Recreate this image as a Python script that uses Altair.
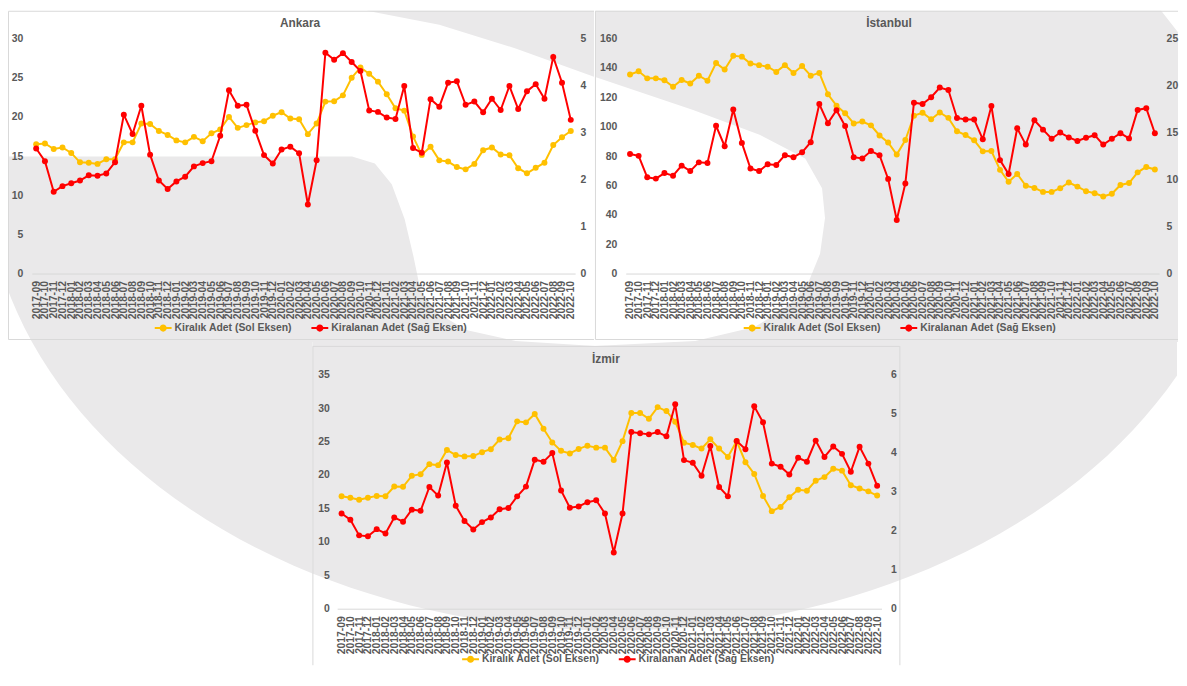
import math
import altair as alt
import pandas as pd

# ---------------- data ----------------
months = [
    "2017-09", "2017-10", "2017-11", "2017-12",
    "2018-01", "2018-02", "2018-03", "2018-04", "2018-05", "2018-06",
    "2018-07", "2018-08", "2018-09", "2018-10", "2018-11", "2018-12",
    "2019-01", "2019-02", "2019-03", "2019-04", "2019-05", "2019-06",
    "2019-07", "2019-08", "2019-09", "2019-10", "2019-11", "2019-12",
    "2020-01", "2020-02", "2020-03", "2020-04", "2020-05", "2020-06",
    "2020-07", "2020-08", "2020-09", "2020-10", "2020-11", "2020-12",
    "2021-01", "2021-02", "2021-03", "2021-04", "2021-05", "2021-06",
    "2021-07", "2021-08", "2021-09", "2021-10", "2021-11", "2021-12",
    "2022-01", "2022-02", "2022-03", "2022-04", "2022-05", "2022-06",
    "2022-07", "2022-08", "2022-09", "2022-10",
]

ankara_kiralik = [
    16.5, 16.6, 15.9, 16.1, 15.4, 14.2, 14.15, 14.0, 14.6, 14.6,
    16.75, 16.75, 19.15, 19.1, 18.2, 17.7, 17.0, 16.75, 17.45, 16.9,
    17.9, 18.4, 20.0, 18.6, 18.95, 19.3, 19.45, 20.15, 20.6, 19.8,
    19.7, 17.8, 19.15, 21.95, 22.0, 22.75, 25.0, 26.3, 25.5, 24.5,
    22.9, 21.1, 20.8, 17.5, 15.15, 16.2, 14.45, 14.3, 13.6, 13.3,
    14.0, 15.75, 16.1, 15.2, 15.1, 13.45, 12.8, 13.5, 14.15, 16.4,
    17.4, 18.2,
]
ankara_kiralanan = [
    2.66, 2.39, 1.74, 1.86, 1.92, 1.98, 2.09, 2.08, 2.13, 2.37,
    3.38, 2.97, 3.57, 2.53, 1.98, 1.80, 1.96, 2.06, 2.28, 2.35,
    2.39, 2.93, 3.90, 3.57, 3.59, 3.04, 2.52, 2.34, 2.64, 2.70,
    2.56, 1.47, 2.41, 4.70, 4.55, 4.69, 4.50, 4.31, 3.47, 3.44,
    3.32, 3.29, 3.99, 2.67, 2.57, 3.71, 3.55, 4.06, 4.09, 3.59,
    3.66, 3.43, 3.72, 3.48, 3.99, 3.50, 3.88, 4.03, 3.72, 4.61,
    4.06, 3.27,
]
istanbul_kiralik = [
    135.5, 137.7, 132.9, 132.9, 131.6, 127.2, 131.8, 129.4, 134.7, 131.3,
    143.3, 138.9, 148.3, 147.7, 143.0, 141.9, 140.8, 137.3, 141.9, 136.6,
    141.3, 134.7, 136.6, 122.1, 114.3, 109.1, 102.2, 103.5, 100.9, 94.0,
    89.2, 81.0, 90.9, 107.5, 109.5, 105.1, 109.7, 106.0, 96.9, 94.3,
    90.7, 83.2, 83.4, 70.6, 62.5, 67.8, 59.8, 58.3, 55.6, 55.6,
    58.1, 62.0, 59.2, 56.1, 54.7, 52.5, 54.3, 60.3, 61.6, 68.9,
    72.6, 70.9,
]
istanbul_kiralanan = [
    12.72, 12.52, 10.24, 10.10, 10.69, 10.41, 11.48, 10.90, 11.83, 11.76,
    15.72, 13.55, 17.45, 13.90, 11.17, 10.90, 11.62, 11.55, 12.59, 12.38,
    12.90, 13.97, 18.03, 16.0, 17.38, 15.69, 12.38, 12.24, 13.03, 12.59,
    10.07, 5.69, 9.59, 18.17, 18.03, 18.76, 19.79, 19.52, 16.55, 16.38,
    16.38, 14.28, 17.83, 12.07, 10.59, 15.45, 13.72, 16.31, 15.31, 14.34,
    15.0, 14.48, 14.10, 14.45, 14.72, 13.72, 14.34, 14.93, 14.38, 17.41,
    17.59, 14.93,
]
izmir_kiralik = [
    16.82, 16.58, 16.29, 16.58, 16.87, 16.82, 18.27, 18.23, 19.87, 20.12,
    21.62, 21.47, 23.75, 22.98, 22.78, 22.83, 23.41, 23.85, 25.30, 25.50,
    28.02, 27.87, 29.13, 26.90, 24.87, 23.61, 23.22, 23.90, 24.38, 24.09,
    24.09, 22.25, 25.06, 29.28, 29.28, 28.40, 30.15, 29.57, 27.97, 24.82,
    24.48, 23.95, 25.35, 23.95, 22.69, 25.06, 21.91, 20.16, 16.87, 14.59,
    15.22, 16.67, 17.79, 17.64, 19.15, 19.68, 20.94, 20.65, 18.47, 17.98,
    17.55, 16.92,
]
izmir_kiralanan = [
    2.44, 2.28, 1.88, 1.86, 2.04, 1.93, 2.34, 2.23, 2.54, 2.51,
    3.12, 2.90, 3.75, 2.64, 2.25, 2.03, 2.22, 2.34, 2.55, 2.58,
    2.88, 3.13, 3.82, 3.77, 3.99, 3.03, 2.59, 2.62, 2.73, 2.78,
    2.44, 1.44, 2.44, 4.53, 4.50, 4.47, 4.53, 4.42, 5.24, 3.81,
    3.74, 3.41, 4.17, 3.12, 2.88, 4.30, 4.09, 5.19, 4.78, 3.72,
    3.64, 3.44, 3.87, 3.77, 4.31, 3.89, 4.16, 3.97, 3.51, 4.15,
    3.72, 3.15,
]

SERIES = ["Kiralık Adet (Sol Eksen)", "Kiralanan Adet (Sağ Eksen)"]

# ---------------- styles ----------------
YELLOW = "#FFC000"
RED = "#FF0000"
TEXT = "#595959"
BORDER = "#D9D9D9"
WM = "#EAE9EA"
FONT = "Liberation Sans"
LEGEND_SYMBOL = ("M-1,-0.12H1V0.12H-1Z "
                 "M0.42,0A0.42,0.42 0 1 1 -0.42,0A0.42,0.42 0 1 1 0.42,0Z")


# ---------------- background watermark (decoration) ----------------
def watermark_outline():
    cx, cy, rx, ry = 620.0, 165.0, 635.0, 468.0
    t0 = -(math.pi - math.acos((620.0 - 200.0) / 635.0))
    t1 = math.pi + math.asin(10.0 / 468.0)
    n = 160
    pts = []
    for i in range(n + 1):
        t = t0 + (t1 - t0) * i / n
        pts.append((cx + rx * math.cos(t), cy + ry * math.sin(t)))
    inner = [
        (355, 155), (378, 162), (395, 183), (408, 218), (417, 256), (424, 290),
        (440, 312), (470, 330), (520, 341), (600, 346), (700, 341), (760, 327),
        (795, 305), (815, 280), (826, 253), (831, 217),
        (828, 187), (811, 157), (765, 133), (698, 108), (600, 75), (520, 46),
        (443, 22), (370, 8), (290, -3),
    ]
    return pts + [(float(a), float(b)) for a, b in inner]


def clip_poly(poly, f):
    out = []
    n = len(poly)
    for i in range(n):
        a = poly[i]
        b = poly[(i + 1) % n]
        fa, fb = f(a), f(b)
        if fa >= 0:
            out.append(a)
        if (fa >= 0) != (fb >= 0):
            t = fa / (fa - fb)
            out.append((a[0] + t * (b[0] - a[0]), a[1] + t * (b[1] - a[1])))
    return out


def watermark_path(cell, ox, oy):
    x1, y1, x2, y2 = cell
    poly = watermark_outline()
    for f in (lambda p: p[0] - x1, lambda p: x2 - p[0],
              lambda p: p[1] - y1, lambda p: y2 - p[1],
              lambda p: 25 * (p[1] + 1) - 32 * (p[0] - 1163)):
        poly = clip_poly(poly, f)
    return "M" + " L".join(f"{x - ox:.1f},{y - oy:.1f}" for x, y in poly) + " Z"


ONE = pd.DataFrame({"k": [0]})


def background(cell, ox, oy):
    wm = alt.Chart(ONE).mark_point(
        shape=watermark_path(cell, ox, oy), size=4, filled=True, color=WM,
        opacity=1, strokeWidth=0
    ).encode(x=alt.value(0), y=alt.value(0))
    cx1, cy1, cx2, cy2 = cell
    cellrect = alt.Chart(ONE).mark_rect(opacity=0).encode(
        x=alt.value(cx1 - ox), x2=alt.value(cx2 - ox),
        y=alt.value(cy1 - oy), y2=alt.value(cy2 - oy))
    return [wm, cellrect]


# ---------------- panel builder ----------------
def panel(title, kir, kira, lmax, lstep, rmax, rstep, ox, oy, W, H, cell,
          edges, title_pos, legend_pos, lpad_l, lpad_r):
    df_k = pd.DataFrame({"Ay": months, "deger": kir, "seri": SERIES[0]})
    df_r = pd.DataFrame({"Ay": months, "deger": kira, "seri": SERIES[1]})

    borders = []
    for (ex1, ey1, ex2, ey2) in edges:
        borders.append(alt.Chart(ONE).mark_rule(color=BORDER, strokeWidth=1).encode(
            x=alt.value(ex1 - ox), x2=alt.value(ex2 - ox),
            y=alt.value(ey1 - oy), y2=alt.value(ey2 - oy)))

    ttl = alt.Chart(ONE).mark_text(
        text=title, font=FONT, fontSize=12, fontWeight="bold", color=TEXT,
        align="center", baseline="middle"
    ).encode(x=alt.value(title_pos[0] - ox), y=alt.value(title_pos[1] - oy))

    x_enc = alt.X(
        "Ay:O", sort=months, title=None,
        axis=alt.Axis(labelAngle=-90, labelFont=FONT, labelFontSize=10.5,
                      labelFontWeight="bold", labelColor=TEXT, ticks=False,
                      domainColor=BORDER, domainWidth=1, labelPadding=7,
                      labelOverlap=False, grid=False, zindex=1))

    def yaxis(orient, vals, pad):
        return alt.Axis(orient=orient, values=vals, title=None, grid=False,
                        domain=False, ticks=False, labelFont=FONT,
                        labelFontSize=10.5, labelFontWeight="bold",
                        labelColor=TEXT, labelPadding=pad, zindex=1)

    lvals = list(range(0, lmax + 1, lstep))
    rvals = list(range(0, rmax + 1, rstep))
    y_left = alt.Y("deger:Q", scale=alt.Scale(domain=[0, lmax], nice=False),
                   axis=yaxis("left", lvals, lpad_l))
    y_right = alt.Y("deger:Q", scale=alt.Scale(domain=[0, rmax], nice=False),
                    axis=yaxis("right", rvals, lpad_r))

    cscale = alt.Scale(domain=SERIES, range=[YELLOW, RED])
    leg = alt.Legend(
        orient="none", legendX=legend_pos[0] - ox, legendY=legend_pos[1] - oy,
        direction="horizontal", title=None, symbolType=LEGEND_SYMBOL,
        symbolSize=289, symbolStrokeWidth=0, symbolOpacity=1,
        labelFont=FONT, labelFontSize=10.5, labelFontWeight="bold",
        labelColor=TEXT, labelOffset=3, columnPadding=19)
    color = alt.Color("seri:N", scale=cscale, legend=leg)

    yline = alt.Chart(df_k).mark_line(color=YELLOW, strokeWidth=2).encode(x=x_enc, y=y_left)
    ypts = alt.Chart(df_k).mark_point(filled=True, size=36, opacity=1, strokeWidth=0).encode(
        x=x_enc, y=y_left, color=color)
    rline = alt.Chart(df_r).mark_line(color=RED, strokeWidth=2).encode(x=x_enc, y=y_right)
    rpts = alt.Chart(df_r).mark_point(filled=True, size=36, opacity=1, strokeWidth=0).encode(
        x=x_enc, y=y_right, color=color)

    yellow = alt.layer(yline, ypts)
    red = alt.layer(rline, rpts)
    return alt.layer(*background(cell, ox, oy), *borders, ttl, yellow, red).resolve_scale(
        y="independent").properties(width=W, height=H)


ankara = panel(
    "Ankara", ankara_kiralik, ankara_kiralanan, 30, 5, 5, 1,
    ox=32, oy=36, W=548, H=237, cell=(8, 8, 599, 342),
    edges=[(8.5, 8.5, 599, 8.5), (8.5, 8.5, 8.5, 339.5), (8.5, 339.5, 599, 339.5)],
    title_pos=(302.5, 20), legend_pos=(156, 319.5), lpad_l=9, lpad_r=5)

istanbul = panel(
    "İstanbul", istanbul_kiralik, istanbul_kiralanan, 160, 20, 25, 5,
    ox=630, oy=36, W=538, H=237, cell=(599, 8, 1187, 342),
    edges=[(599.5, 8.5, 1187, 8.5), (599.5, 8.5, 599.5, 339.5),
           (599.5, 339.5, 1187, 339.5)],
    title_pos=(895.5, 20), legend_pos=(749, 319.5), lpad_l=9, lpad_r=7)

izmir = panel(
    "İzmir", izmir_kiralik, izmir_kiralanan, 35, 5, 6, 1,
    ox=340, oy=375, W=549, H=236, cell=(315, 342, 1187, 668),
    edges=[(315.5, 346.5, 907.5, 346.5), (315.5, 346.5, 315.5, 668),
           (907.5, 346.5, 907.5, 668)],
    title_pos=(611, 359), legend_pos=(466, 653.5), lpad_l=8, lpad_r=9)

# left-hand filler of the bottom row (carries the background only)
filler = alt.layer(*background((8, 342, 315, 668), 32, 375)).properties(width=283, height=236)

top = alt.hconcat(ankara, istanbul, spacing=0).resolve_scale(color="independent")
bottom = alt.hconcat(filler, izmir, spacing=0).resolve_scale(color="independent")
chart = alt.vconcat(top, bottom, spacing=0).resolve_scale(color="independent").properties(
    padding=0, background="white"
).configure_view(strokeWidth=0)

chart.save("out.html", embed_options={"renderer": "svg", "actions": False})
